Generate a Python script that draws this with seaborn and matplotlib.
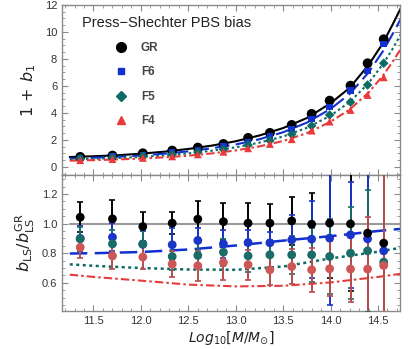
import numpy as np
import pandas as pd
import matplotlib
matplotlib.use('Agg')
import matplotlib.pyplot as plt
from matplotlib.ticker import MultipleLocator
from matplotlib.lines import Line2D
import seaborn as sns

# mass bins (log10 M/Msun)
mass = [11.36, 11.70, 12.02, 12.33, 12.60, 12.87, 13.13, 13.36, 13.59, 13.80, 13.99, 14.21, 14.39, 14.56]

# measured 1 + b1
bias_gr = [0.74, 0.84, 1.01, 1.21, 1.43, 1.70, 2.15, 2.52, 3.11, 3.93, 4.91, 6.02, 7.68, 9.46]
bias_f6 = [0.66, 0.76, 0.88, 1.05, 1.27, 1.50, 1.85, 2.25, 2.80, 3.55, 4.45, 5.65, 7.10, 9.10]
bias_f5 = [0.62, 0.70, 0.80, 0.93, 1.10, 1.30, 1.62, 1.95, 2.42, 3.04, 3.85, 4.80, 6.07, 7.68]
bias_f4 = [0.50, 0.58, 0.67, 0.78, 0.93, 1.12, 1.38, 1.70, 2.05, 2.69, 3.36, 4.22, 5.33, 6.64]

# Press-Shechter predictions
theory_m = [11.25, 11.5, 11.75, 12.0, 12.25, 12.5, 12.75, 13.0, 13.25, 13.5, 13.75, 14.0, 14.2, 14.4, 14.55, 14.65, 14.75]
ps_gr = [0.73, 0.79, 0.86, 0.98, 1.13, 1.33, 1.58, 1.90, 2.33, 2.88, 3.62, 4.72, 5.85, 7.55, 9.15, 10.5, 11.9]
ps_f6 = [0.62, 0.68, 0.75, 0.85, 0.98, 1.15, 1.38, 1.66, 2.05, 2.57, 3.28, 4.30, 5.40, 7.00, 8.55, 9.8, 11.1]
ps_f5 = [0.55, 0.60, 0.66, 0.74, 0.85, 1.00, 1.20, 1.45, 1.80, 2.25, 2.90, 3.80, 4.80, 6.20, 7.60, 8.7, 9.95]
ps_f4 = [0.46, 0.50, 0.55, 0.62, 0.71, 0.83, 1.00, 1.22, 1.52, 1.92, 2.50, 3.35, 4.25, 5.50, 6.75, 7.75, 8.85]

# ratio b_LS / b_LS^GR with errors
ratio_gr = [1.043, 1.032, 0.98, 1.003, 1.03, 1.013, 1.003, 1.003, 1.018, 0.996, 1.003, 0.998, 0.935, 0.868]
err_gr = [0.10, 0.128, 0.097, 0.075, 0.125, 0.124, 0.134, 0.127, 0.16, 0.21, 0.37, 0.45, 0.8, 1.0]
ratio_f6 = [0.90, 0.908, 0.86, 0.857, 0.886, 0.863, 0.872, 0.87, 0.89, 0.895, 0.902, 0.924, 0.897, 0.816]
err_f6 = [0.085, 0.095, 0.09, 0.11, 0.083, 0.095, 0.086, 0.07, 0.17, 0.26, 0.45, 0.36, 0.8, 0.6]
ratio_f5 = [0.897, 0.863, 0.863, 0.778, 0.785, 0.807, 0.782, 0.789, 0.789, 0.789, 0.778, 0.80, 0.816, 0.74]
err_f5 = [0.083, 0.095, 0.095, 0.09, 0.09, 0.09, 0.11, 0.10, 0.13, 0.18, 0.25, 0.31, 0.41, 0.6]
ratio_f4 = [0.84, 0.782, 0.774, 0.727, 0.715, 0.737, 0.722, 0.688, 0.71, 0.688, 0.695, 0.693, 0.693, 0.717]
err_f4 = [0.072, 0.09, 0.08, 0.088, 0.10, 0.12, 0.10, 0.10, 0.12, 0.15, 0.185, 0.22, 0.35, 0.9]

# predicted ratio
ratio_m = [11.25, 11.5, 12.0, 12.5, 13.0, 13.5, 14.0, 14.5, 14.75]
pr_f6 = [0.798, 0.80, 0.808, 0.825, 0.852, 0.885, 0.915, 0.95, 0.965]
pr_f5 = [0.725, 0.715, 0.70, 0.69, 0.688, 0.71, 0.765, 0.81, 0.838]
pr_f4 = [0.655, 0.64, 0.615, 0.588, 0.576, 0.58, 0.603, 0.64, 0.662]
unity = [1.0] * len(ratio_m)

models = ['GR', 'F6', 'F5', 'F4']
col_top = {'GR': 'black', 'F6': '#1030d0', 'F5': '#0d6b66', 'F4': '#e83a3a'}
col_bot = {'GR': 'black', 'F6': '#1a35c8', 'F5': '#1b6b68', 'F4': '#cf5656'}
bar_bot = {'GR': 'black', 'F6': '#1a35c8', 'F5': '#1b6b68', 'F4': '#b84c4c'}
markers = {'GR': 'o', 'F6': 's', 'F5': 'D', 'F4': '^'}
msize = {'GR': 50, 'F6': 22, 'F5': 24, 'F4': 32}
dash = {'GR': '-', 'F6': (0, (7, 3)), 'F5': (0, (1.2, 1.4)), 'F4': (0, (4, 1.5, 1.2, 1.5))}

sns.set_style('ticks')
plt.rcParams['font.family'] = ['Liberation Sans', 'DejaVu Sans']
plt.rcParams['mathtext.fontset'] = 'dejavusans'

fig = plt.figure(figsize=(4.15, 3.49), dpi=100)
ax1 = fig.add_axes([0.1494, 0.4986, 0.8145, 0.4871])
ax2 = fig.add_axes([0.1494, 0.1089, 0.8145, 0.3897])

bias = {'GR': bias_gr, 'F6': bias_f6, 'F5': bias_f5, 'F4': bias_f4}
ps = {'GR': ps_gr, 'F6': ps_f6, 'F5': ps_f5, 'F4': ps_f4}

for m in models:
    sns.lineplot(x=theory_m, y=ps[m], ax=ax1, color=col_top[m], linestyle=dash[m],
                 linewidth=1.5, zorder=2)
for m in models:
    sns.scatterplot(x=mass, y=bias[m], ax=ax1, color=col_top[m], marker=markers[m],
                    s=msize[m], edgecolor='none', zorder=3)

ax1.set_xlim(11.168, 14.732)
ax1.set_ylim(-0.6, 12.0)
ax1.set_ylabel(r'$1\,+\,b_1$', fontsize=11.5, color='#222222', labelpad=5)
ax1.set_xticklabels([])

ax1.text(0.06, 0.895, 'Press\u2212Shechter PBS bias', transform=ax1.transAxes,
         fontsize=10.5, color='#222222', va='center')
handles = [Line2D([], [], linestyle='none', marker=markers[m], color=col_top[m],
                  markersize={'GR': 7, 'F6': 4.5, 'F5': 5, 'F4': 5.5}[m]) for m in models]
leg = ax1.legend(handles, models, loc='upper left', bbox_to_anchor=(0.125, 0.81),
                 frameon=False, labelspacing=1.05, handletextpad=0.7, fontsize=8.5,
                 borderaxespad=0)
for t in leg.get_texts():
    t.set_fontweight('bold')
    t.set_color('#444444')

# lower panel
sns.lineplot(x=ratio_m, y=unity, ax=ax2, color='#999999', linewidth=1.5, zorder=1)
sns.lineplot(x=ratio_m, y=pr_f6, ax=ax2, color='#1030d0', linestyle=(0, (7, 3)), linewidth=1.8, zorder=2)
sns.lineplot(x=ratio_m, y=pr_f5, ax=ax2, color='#0d6b66', linestyle=(0, (1.2, 1.4)), linewidth=1.8, zorder=2)
sns.lineplot(x=ratio_m, y=pr_f4, ax=ax2, color='#e83a3a', linestyle=(0, (4, 1.5, 1.2, 1.5)), linewidth=1.5, zorder=2)

ratio = {'GR': ratio_gr, 'F6': ratio_f6, 'F5': ratio_f5, 'F4': ratio_f4}
errs = {'GR': err_gr, 'F6': err_f6, 'F5': err_f5, 'F4': err_f4}
for m in models:
    ax2.errorbar(mass, ratio[m], yerr=errs[m], fmt='none', ecolor=bar_bot[m],
                 elinewidth=1.4, capsize=2.2, capthick=1.2, zorder=3)
for m in ['F6', 'F5', 'F4', 'GR']:
    sns.scatterplot(x=mass, y=ratio[m], ax=ax2, color=col_bot[m], marker='o',
                    s=40, edgecolor='none', zorder=4)

ax2.set_xlim(11.168, 14.732)
ax2.set_ylim(0.41, 1.328)
ax2.set_ylabel(r'$b_{\rm LS}/b_{\rm LS}^{\rm GR}$', fontsize=11.5, color='#222222', labelpad=3)
ax2.set_xlabel(r'$Log_{10}[M/M_{\odot}]$', fontsize=10, color='#222222', labelpad=2)

for ax in (ax1, ax2):
    ax.xaxis.set_major_locator(MultipleLocator(0.5))
    ax.xaxis.set_minor_locator(MultipleLocator(0.1))
    for sp in ax.spines.values():
        sp.set_visible(True)
        sp.set_color('#8a8a8a')
        sp.set_linewidth(1.0)
    ax.tick_params(which='both', direction='in', top=True, right=True, color='#8a8a8a',
                   labelsize=8, labelcolor='#333333')
    ax.tick_params(which='major', length=4)
    ax.tick_params(which='minor', length=2)
ax1.yaxis.set_major_locator(MultipleLocator(2))
ax1.yaxis.set_minor_locator(MultipleLocator(0.5))
ax2.yaxis.set_major_locator(MultipleLocator(0.2))
ax2.yaxis.set_minor_locator(MultipleLocator(0.05))
ax2.set_yticks([0.6, 0.8, 1.0, 1.2])
ax2.set_yticklabels(['0.6', '0.8', '1.0', '1.2'])

fig.savefig('out.png', dpi=100)
